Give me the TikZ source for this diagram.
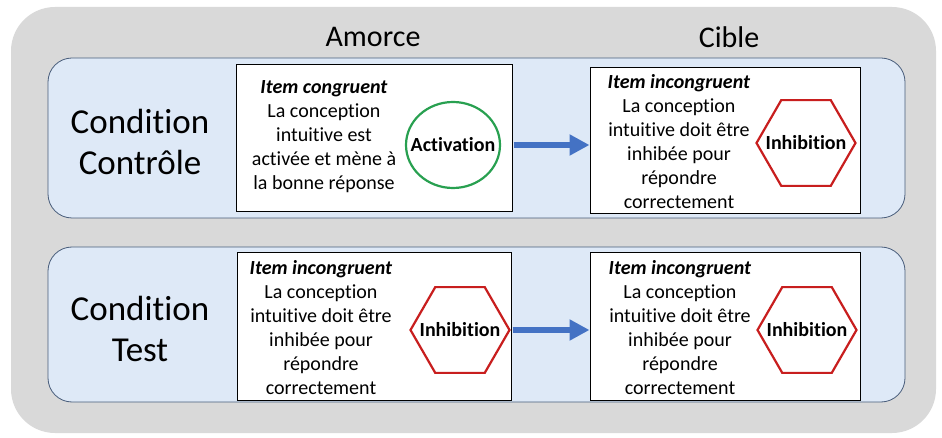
\documentclass[tikz,border=0pt]{standalone}
\usepackage{fontspec}
\setmainfont{Carlito}[Ligatures={NoCommon}]
\usetikzlibrary{shapes.geometric,arrows.meta,calc}
\definecolor{outergray}{RGB}{217,217,217}
\definecolor{panelblue}{RGB}{222,233,247}
\definecolor{panelline}{RGB}{72,92,122}
\definecolor{arrowblue}{RGB}{68,114,196}
\definecolor{actgreen}{RGB}{40,160,80}
\definecolor{inhred}{RGB}{200,30,30}
\tikzset{
  panel/.style={draw=panelline, line width=0.8pt, fill=panelblue, rounded corners=24pt},
  whitebox/.style={draw=black, line width=1pt, fill=white, inner sep=0pt},
  body/.style={align=center, font=\fontsize{20}{24}\selectfont, inner sep=0pt},
  heading/.style={font=\fontsize{30}{36}\selectfont, inner sep=0pt},
  cond/.style={align=center, font=\fontsize{35}{41}\selectfont, inner sep=0pt},
  bold/.style={font=\fontsize{20}{24}\selectfont\bfseries, inner sep=0pt},
  circ/.style={draw=actgreen, line width=2.2pt, ellipse, minimum width=94pt, minimum height=86pt, inner sep=0pt},
  hexa/.style={draw=inhred, line width=2.2pt, regular polygon, regular polygon sides=6, minimum size=99pt, inner sep=0pt},
  flow/.style={draw=arrowblue, line width=6.5pt, -{Triangle[length=20pt,width=20pt]}}
}
\begin{document}
\begin{tikzpicture}[x=1pt,y=-1pt]
\useasboundingbox (0,0) rectangle (942,438);
\fill[outergray, rounded corners=44pt] (11,7) rectangle (936,433);
% headings
\node[heading] (amorce) at (373,37) {Amorce};
\node[heading] (cible) at (729,37) {Cible};
% panels
\draw[panel] (48,58) rectangle (905,218);
\draw[panel] (48,247) rectangle (905,402);
% conditions
\node[cond] (c1) at (140,142) {Condition\\Contrôle};
\node[cond] (c2) at (140,329) {Condition\\Test};
% top row boxes
\node[whitebox, minimum width=276pt, minimum height=147pt] (tl) at (374,138.5) {};
\node[whitebox, minimum width=270pt, minimum height=146pt] (tr) at (725,141) {};
\node[body] (tlt) at (324,137) {\textbf{\textit{Item congruent}}\\La conception\\intuitive est\\activée et mène à\\la bonne réponse};
\node[circ] (act) at (453,145) {};
\node[bold] (actl) at (act) {Activation};
\node[body] (trt) at (679,142) {\textbf{\textit{Item incongruent}}\\La conception\\intuitive doit être\\inhibée pour\\répondre\\correctement};
\node[hexa] (h1) at (806,143) {};
\node[bold] (h1l) at (h1) {Inhibition};
% bottom row boxes
\node[whitebox, minimum width=274pt, minimum height=147pt] (bl) at (374,326.5) {};
\node[whitebox, minimum width=270pt, minimum height=147pt] (br) at (725,326.5) {};
\node[body] (blt) at (321,328) {\textbf{\textit{Item incongruent}}\\La conception\\intuitive doit être\\inhibée pour\\répondre\\correctement};
\node[hexa] (h2) at (460,330) {};
\node[bold] (h2l) at (h2) {Inhibition};
\node[body] (brt) at (680,328) {\textbf{\textit{Item incongruent}}\\La conception\\intuitive doit être\\inhibée pour\\répondre\\correctement};
\node[hexa] (h3) at (807,330) {};
\node[bold] (h3l) at (h3) {Inhibition};
% arrows
\draw[flow] ([xshift=1pt]tl.east |- act.center) -- (tr.west |- act.center);
\draw[flow] ([xshift=1pt]bl.east |- h2.center) -- (br.west |- h2.center);
\end{tikzpicture}
\end{document}
